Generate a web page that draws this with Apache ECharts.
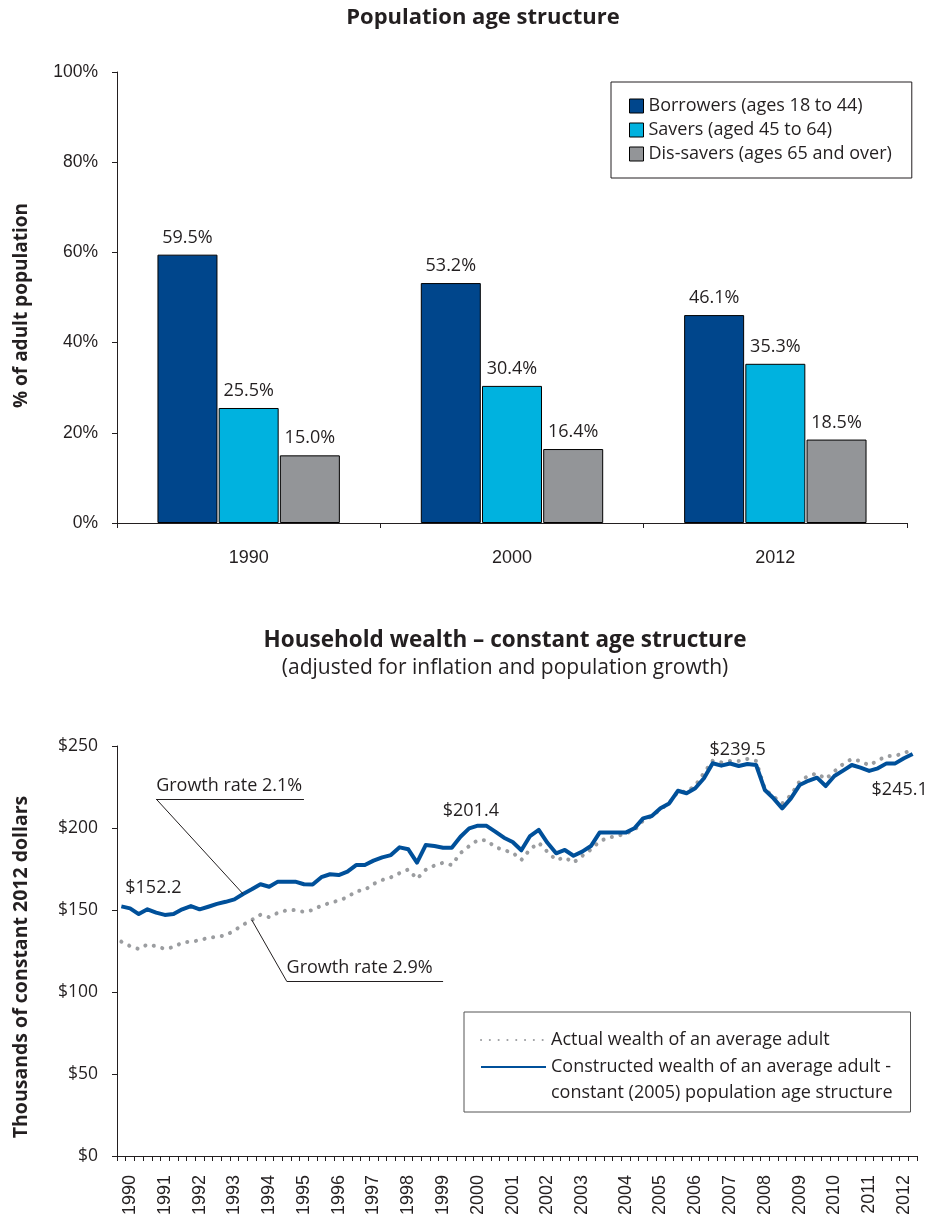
<!DOCTYPE html>
<html>
<head>
<meta charset="utf-8">
<script src="https://cdn.jsdelivr.net/npm/echarts@6/dist/echarts.min.js"></script>
<style>
  html, body { margin: 0; padding: 0; background: #fff; }
  #main { width: 928px; height: 1216px; }
</style>
</head>
<body>
<div id="main"></div>
<script>
// --- population age structure (bar chart) ---
const ageYears = ["1990", "2000", "2012"];
const borrowers = [59.5, 53.2, 46.1];
const savers = [25.5, 30.4, 35.3];
const disSavers = [15.0, 16.4, 18.5];

// --- household wealth, quarterly 1990 Q1 - 2012 Q4 ---
const wealthYears = [];
for (let y = 1990; y <= 2012; y++) wealthYears.push(String(y));
const quarters = [];
wealthYears.forEach((y) => ["Q1", "Q2", "Q3", "Q4"].forEach((q) => quarters.push(y + " " + q)));

const actualWealth = [
    130.7, 128.0, 126.2, 129.0, 127.9, 126.3, 127.4, 130.1, 130.7, 131.5,
    133.1, 133.6, 134.6, 137.5, 141.0, 143.9, 147.1, 145.6, 148.3, 149.8,
    150.0, 148.8, 150.0, 152.7, 154.3, 155.8, 157.8, 161.4, 162.2, 165.9,
    168.3, 169.9, 172.5, 174.7, 169.0, 174.5, 177.1, 178.8, 177.4, 184.7,
    189.0, 192.7, 192.5, 188.4, 186.5, 185.0, 180.5, 187.0, 191.0, 185.5,
    180.5, 182.0, 178.9, 183.0, 186.9, 191.8, 194.2, 195.0, 196.7, 198.6,
    204.5, 207.2, 211.4, 215.3, 222.1, 222.1, 225.8, 233.5, 241.0, 240.0,
    240.9, 240.9, 242.1, 240.9, 223.6, 219.2, 215.0, 220.0, 228.5, 231.8,
    233.3, 229.9, 234.5, 239.0, 242.1, 240.8, 238.2, 241.2, 243.9, 244.0,
    245.6, 248.0,
];
const constructedWealth = [
    152.2, 151.0, 147.5, 150.4, 148.4, 147.0, 147.5, 150.4, 152.4, 150.4,
    152.0, 153.7, 155.0, 156.5, 159.8, 162.6, 165.7, 164.2, 167.3, 167.3,
    167.3, 165.7, 165.5, 170.0, 171.8, 171.3, 173.4, 177.4, 177.4, 180.1,
    182.1, 183.5, 188.2, 187.0, 178.9, 189.6, 189.0, 188.0, 188.0, 194.7,
    199.8, 201.4, 201.3, 197.8, 194.1, 191.5, 186.4, 195.1, 198.8, 191.0,
    184.6, 186.6, 183.1, 185.6, 189.0, 197.2, 197.2, 197.2, 197.2, 199.8,
    205.9, 207.3, 212.0, 215.0, 222.7, 221.2, 224.2, 230.3, 239.5, 238.0,
    239.3, 237.8, 239.0, 238.4, 223.2, 218.1, 212.0, 218.1, 226.2, 228.8,
    230.7, 225.6, 231.7, 235.0, 238.4, 236.8, 234.8, 236.4, 239.4, 239.4,
    242.5, 245.1,
];
// which points of the constructed series carry a value label, and how far it is pushed
const labelledPoints = { 0: [32, -5], 41: [-7, -1], 68: [25, 1], 91: [-13, 22] };

const TEXT = "#231f20";
const FONT = "Open Sans";
const ACTUAL_NAME = "Actual wealth of an average adult";
const CONSTRUCTED_NAME = "Constructed wealth of an average adult -\nconstant (2005) population age structure";

const chart = echarts.init(document.querySelector("#main"));

const constructedData = constructedWealth.map((v, i) => {
    if (!labelledPoints[i]) return v;
    return {
        value: v,
        label: {
            show: true,
            position: i === 91 ? "bottom" : "top",
            offset: labelledPoints[i],
        },
    };
});

// year labels drift a little in the original: Q2 early on, Q3 from the mid 2000s
function showYearLabel(i) {
    const yearIdx = Math.floor(i / 4);
    return i % 4 === Math.round(0.91 + 0.045 * yearIdx);
}

const barLabel = {
    show: true,
    position: "top",
    distance: 8,
    formatter: (p) => p.value.toFixed(1) + "%",
    fontFamily: FONT,
    fontSize: 18,
    color: TEXT,
};

const growthLabel = {
    show: true,
    position: "insideStartTop",
    distance: [0, 4],
    fontFamily: FONT,
    fontSize: 18,
    color: TEXT,
};

let option = {
    animation: false,
    backgroundColor: "#fff",
    title: [
        {
            text: "Population age structure",
            left: 478,
            top: 2,
            textAlign: "center",
            textStyle: { fontFamily: FONT, fontWeight: "bold", fontSize: 22, color: TEXT },
        },
        {
            text: "Household wealth – constant age structure",
            subtext: "(adjusted for inflation and population growth)",
            left: 500,
            top: 624,
            textAlign: "center",
            itemGap: 6,
            textStyle: { fontFamily: FONT, fontWeight: "bold", fontSize: 22.5, color: TEXT },
            subtextStyle: { fontFamily: FONT, fontSize: 21, color: TEXT },
        },
    ],
    legend: [
        {
            orient: "vertical",
            left: 611,
            top: 82,
            padding: [15, 20, 15, 18],
            borderColor: TEXT,
            borderWidth: 1,
            icon: "rect",
            itemWidth: 14,
            itemHeight: 14,
            itemGap: 6,
            itemStyle: { borderColor: "#000", borderWidth: 1 },
            textStyle: { fontFamily: FONT, fontSize: 18, lineHeight: 18, color: TEXT },
            data: ["Borrowers (ages 18 to 44)", "Savers (aged 45 to 64)", "Dis-savers (ages 65 and over)"],
        },
        {
            orient: "vertical",
            left: 464,
            top: 1012,
            padding: [15, 18, 6, 16],
            borderColor: "#555",
            borderWidth: 1,
            itemWidth: 65,
            itemHeight: 14,
            itemGap: -25,
            itemStyle: { opacity: 0 },
            textStyle: { fontFamily: FONT, fontSize: 18, lineHeight: 26, color: TEXT },
            // the two-line entry gets an empty first line so its first line sits beside the icon
            formatter: (name) => (name === CONSTRUCTED_NAME ? "\n" + name : name),
            data: [ACTUAL_NAME, CONSTRUCTED_NAME],
        },
    ],
    grid: [
        { left: 117, right: 21, top: 72, bottom: 693, outerBoundsMode: "none" },
        { left: 117, right: 11, top: 746, bottom: 60, outerBoundsMode: "none" },
    ],
    xAxis: [
        {
            type: "category",
            gridIndex: 0,
            data: ageYears,
            axisLine: { lineStyle: { color: TEXT, width: 1 } },
            axisTick: { show: true, length: 5, lineStyle: { color: TEXT } },
            axisLabel: { fontFamily: "Liberation Sans", fontSize: 18, color: TEXT, margin: 26 },
        },
        {
            type: "category",
            gridIndex: 1,
            data: quarters,
            axisLine: { lineStyle: { color: TEXT, width: 1 } },
            axisTick: { show: true, interval: 0, length: 5, lineStyle: { color: TEXT } },
            axisLabel: {
                rotate: 90,
                interval: showYearLabel,
                formatter: (v) => v.slice(0, 4),
                fontFamily: "Liberation Sans",
                fontSize: 18,
                color: TEXT,
                margin: 19,
            },
        },
    ],
    yAxis: [
        {
            type: "value",
            gridIndex: 0,
            min: 0,
            max: 100,
            interval: 20,
            name: "% of adult population",
            nameLocation: "middle",
            nameGap: 86,
            nameTextStyle: { fontFamily: FONT, fontWeight: "bold", fontSize: 19, color: TEXT, padding: [0, 16, 0, 0] },
            axisLine: { show: true, lineStyle: { color: TEXT, width: 1 } },
            axisTick: { show: true, length: 5, lineStyle: { color: TEXT } },
            splitLine: { show: false },
            axisLabel: { formatter: "{value}%", fontFamily: "Liberation Sans", fontSize: 17.5, color: TEXT, margin: 19 },
        },
        {
            type: "value",
            gridIndex: 1,
            min: 0,
            max: 250,
            interval: 50,
            name: "Thousands of constant 2012 dollars",
            nameLocation: "middle",
            nameGap: 86,
            nameTextStyle: { fontFamily: FONT, fontWeight: "bold", fontSize: 19.5, color: TEXT, padding: [0, 32, 0, 0] },
            axisLine: { show: true, lineStyle: { color: TEXT, width: 1 } },
            axisTick: { show: true, length: 5, lineStyle: { color: TEXT } },
            splitLine: { show: false },
            axisLabel: { formatter: "${value}", fontFamily: FONT, fontSize: 17.5, color: TEXT, margin: 19 },
        },
    ],
    series: [
        {
            name: "Borrowers (ages 18 to 44)",
            type: "bar",
            xAxisIndex: 0,
            yAxisIndex: 0,
            data: borrowers,
            barWidth: 60,
            barGap: "2%",
            itemStyle: { color: "#00468c", borderColor: "#000", borderWidth: 1 },
            label: barLabel,
        },
        {
            name: "Savers (aged 45 to 64)",
            type: "bar",
            xAxisIndex: 0,
            yAxisIndex: 0,
            data: savers,
            barWidth: 60,
            barGap: "2%",
            itemStyle: { color: "#00b2df", borderColor: "#000", borderWidth: 1 },
            label: barLabel,
        },
        {
            name: "Dis-savers (ages 65 and over)",
            type: "bar",
            xAxisIndex: 0,
            yAxisIndex: 0,
            data: disSavers,
            barWidth: 60,
            barGap: "2%",
            itemStyle: { color: "#939598", borderColor: "#000", borderWidth: 1 },
            label: barLabel,
        },
        {
            name: ACTUAL_NAME,
            type: "line",
            xAxisIndex: 1,
            yAxisIndex: 1,
            data: actualWealth,
            symbol: "none",
            lineStyle: { color: "#9b9da0", width: 4, type: [0.1, 8.7], cap: "round" },
            z: 2,
            markLine: {
                silent: true,
                symbol: "none",
                animation: false,
                lineStyle: { color: TEXT, width: 1, type: "solid" },
                label: { show: false },
                data: [
                    [{ coord: [15, 143.9] }, { coord: [19, 106.7] }],
                    [
                        { coord: [19, 106.7], label: Object.assign({ formatter: "Growth rate 2.9%" }, growthLabel) },
                        { coord: [37, 106.7] },
                    ],
                ],
            },
        },
        {
            name: CONSTRUCTED_NAME,
            type: "line",
            xAxisIndex: 1,
            yAxisIndex: 1,
            data: constructedData,
            symbol: "circle",
            symbolSize: 0,
            showSymbol: true,
            lineStyle: { color: "#00509a", width: 4, join: "round" },
            itemStyle: { color: "#00509a" },
            z: 3,
            label: {
                show: false,
                formatter: (p) => "$" + p.value.toFixed(1),
                fontFamily: FONT,
                fontSize: 18,
                color: TEXT,
            },
            markLine: {
                silent: true,
                symbol: "none",
                animation: false,
                lineStyle: { color: TEXT, width: 1, type: "solid" },
                label: { show: false },
                data: [
                    [{ coord: [14, 159.8] }, { coord: [4, 217.7] }],
                    [
                        { coord: [4, 217.7], label: Object.assign({ formatter: "Growth rate 2.1%" }, growthLabel) },
                        { coord: [21, 217.7] },
                    ],
                ],
            },
        },
    ],
};

chart.setOption(option);

window.onresize = function () {
    chart.resize();
};
</script>
</body>
</html>
